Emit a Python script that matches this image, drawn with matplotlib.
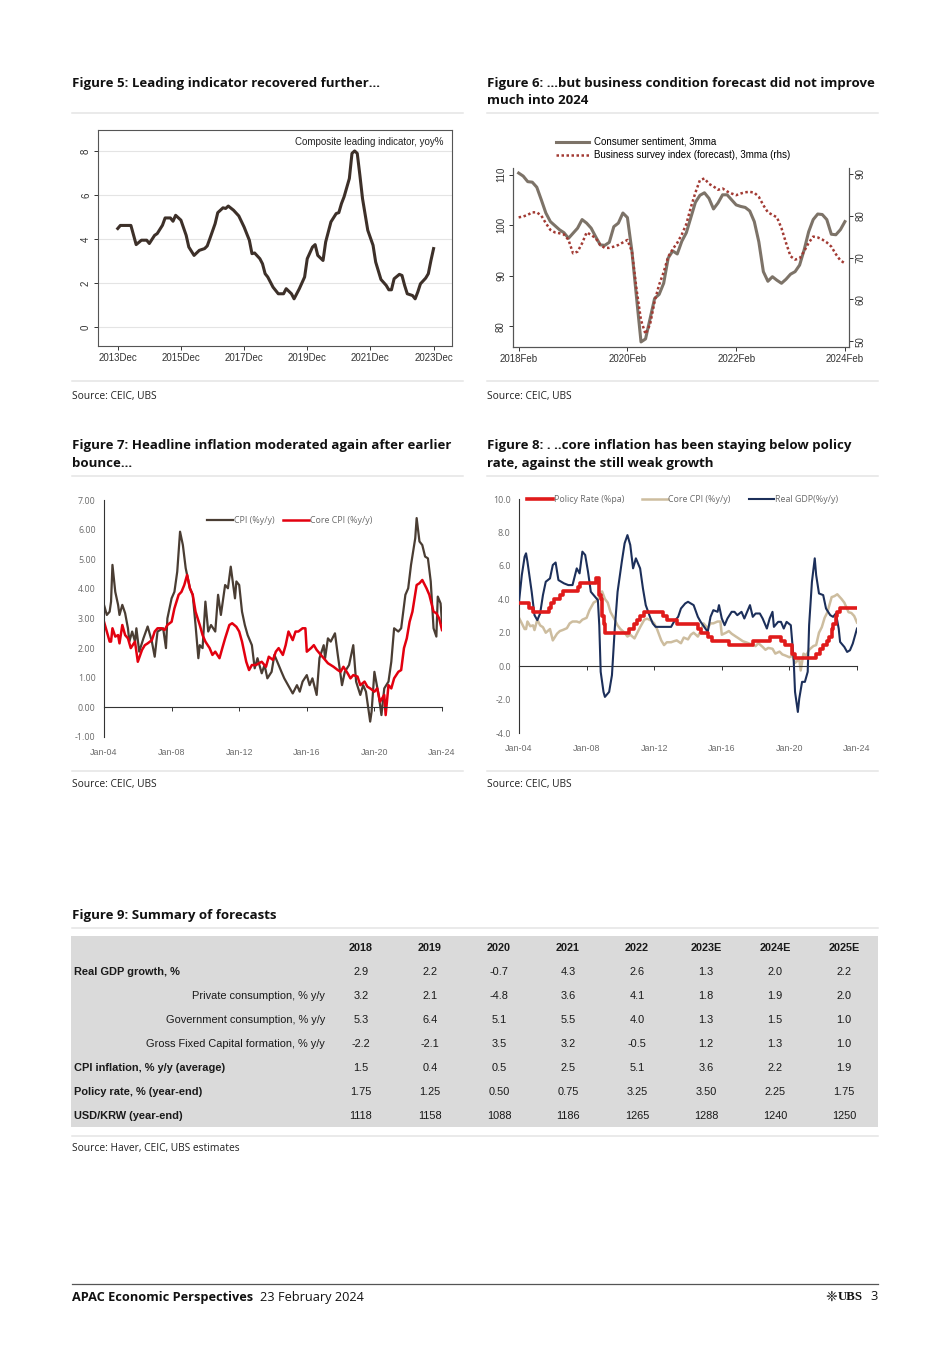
import matplotlib
matplotlib.use('Agg')
import matplotlib.pyplot as plt
from matplotlib.lines import Line2D
from matplotlib.patches import Rectangle

W, H = 950, 1345

# ---------------- Figure 5: composite leading indicator (months since 2013Dec)
cli_month = [0, 1, 5, 7, 9, 11, 12, 14, 15, 17, 18, 20, 21, 22, 24, 26, 27, 29, 31, 33,
             34, 35, 37, 38, 40, 41, 42, 44, 46, 48, 50, 51, 52, 54, 55, 56, 57, 59, 61, 63,
             64, 66, 67, 69, 71, 72, 74, 75, 76, 78, 79, 81, 83, 84, 85, 86, 88, 89, 90, 91,
             92, 93, 95, 97, 98, 100, 102, 103, 104, 105, 107, 108, 109, 110, 112, 113, 114, 115, 117, 118,
             119, 120]
cli_value = [4.48, 4.62, 4.62, 3.75, 3.95, 3.95, 3.8, 4.17, 4.25, 4.63, 4.96, 4.96, 4.81, 5.08, 4.86, 4.17, 3.64, 3.26, 3.49, 3.57,
             3.69, 4.02, 4.7, 5.2, 5.42, 5.39, 5.5, 5.31, 5.05, 4.55, 3.95, 3.34, 3.37, 3.11, 2.88, 2.43, 2.28, 1.82, 1.52, 1.52,
             1.75, 1.52, 1.29, 1.75, 2.28, 3.11, 3.64, 3.75, 3.26, 3.03, 3.87, 4.78, 5.16, 5.2, 5.61, 5.92, 6.75, 7.89, 8.0, 7.89,
             6.9, 5.84, 4.4, 3.72, 2.96, 2.17, 1.9, 1.7, 1.7, 2.2, 2.4, 2.35, 1.9, 1.52, 1.44, 1.29, 1.6, 1.97, 2.23, 2.43,
             3.03, 3.57]
cli_xlabels = ['2013Dec', '2015Dec', '2017Dec', '2019Dec', '2021Dec', '2023Dec']

# ---------------- Figure 6: sentiment (monthly from 2018Feb)
cs_value = [110.3, 109.7, 108.6, 108.5, 107.5, 105.0, 102.4, 100.7, 99.9, 99.1,
            98.5, 97.4, 98.4, 99.4, 101.1, 100.4, 99.4, 97.7, 96.1, 96.0,
            96.6, 99.7, 100.4, 102.4, 101.5, 94.8, 85.8, 76.9, 77.5, 81.5,
            85.5, 86.3, 88.5, 93.5, 94.9, 94.3, 96.8, 98.5, 101.5, 104.5,
            105.9, 106.4, 105.3, 103.2, 104.4, 106.0, 106.0, 105.0, 104.0, 103.7,
            103.5, 102.8, 100.7, 96.7, 90.8, 88.9, 89.8, 89.1, 88.5, 89.3,
            90.3, 90.8, 92.1, 95.1, 98.7, 101.1, 102.2, 102.1, 101.1, 98.2,
            98.1, 99.1, 100.7]
bs_value = [79.6, 79.8, 80.2, 80.8, 80.8, 80.0, 78.2, 76.6, 76.0, 75.8,
            75.5, 74.2, 71.0, 71.4, 73.4, 76.0, 75.4, 74.6, 73.0, 72.3,
            72.3, 72.6, 73.0, 73.6, 74.2, 71.4, 62.5, 55.0, 51.7, 54.0,
            59.5, 63.5, 66.5, 70.2, 72.0, 73.5, 75.5, 78.0, 82.0, 85.5,
            88.5, 88.9, 87.6, 87.0, 86.2, 86.5, 85.8, 85.3, 84.9, 85.3,
            85.6, 85.7, 85.5, 84.5, 82.5, 80.8, 80.2, 79.6, 77.0, 73.5,
            70.3, 69.5, 69.8, 71.5, 73.5, 75.0, 74.8, 74.3, 73.6, 72.6,
            70.8, 69.3, 68.6]
sent_xlabels = ['2018Feb', '2020Feb', '2022Feb', '2024Feb']

# ---------------- Figure 7 / 8 (months since Jan-04)
cpi_month = [0, 2, 4, 5, 6, 8, 10, 11, 13, 15, 17, 18, 20, 22, 23, 25, 28, 31, 34, 36,
             38, 42, 44, 45, 48, 50, 52, 54, 56, 58, 61, 63, 65, 67, 68, 70, 72, 74, 76, 79,
             81, 83, 86, 88, 90, 93, 94, 96, 98, 100, 102, 105, 107, 109, 112, 114, 116, 119, 121, 124,
             126, 128, 132, 134, 137, 139, 141, 144, 146, 148, 151, 153, 156, 157, 159, 161, 164, 166, 169, 171,
             174, 177, 179, 182, 184, 186, 189, 190, 192, 195, 197, 199, 202, 204, 206, 209, 211, 214, 216, 218,
             221, 222, 224, 226, 228, 230, 232, 234, 236, 237, 239, 240]
cpi_value = [3.46, 3.12, 3.23, 3.57, 4.81, 3.9, 3.46, 3.12, 3.46, 3.18, 2.67, 2.22, 2.56, 2.22, 2.67, 1.88, 2.33, 2.73, 2.22, 1.71,
             2.56, 2.67, 2.0, 3.0, 3.68, 3.9, 4.58, 5.93, 5.48, 4.7, 4.02, 3.8, 2.78, 1.66, 2.1, 2.0, 3.57, 2.56, 2.78, 2.56,
             3.8, 3.12, 4.13, 4.02, 4.75, 3.68, 4.25, 4.13, 3.23, 2.78, 2.44, 2.1, 1.32, 1.66, 1.15, 1.43, 0.98, 1.2, 1.77, 1.43,
             1.2, 0.98, 0.64, 0.47, 0.75, 0.53, 0.87, 1.09, 0.75, 0.98, 0.42, 1.66, 2.1, 1.66, 2.33, 2.22, 2.5, 1.77, 0.75, 1.2,
             1.43, 2.1, 0.87, 0.42, 0.75, 0.53, -0.48, -0.15, 1.2, 0.42, -0.26, 0.64, 0.87, 1.54, 2.67, 2.56, 2.67, 3.8, 4.02, 4.81,
             5.71, 6.39, 5.6, 5.48, 5.09, 5.03, 4.25, 2.67, 2.39, 3.74, 3.51, 2.84]
core_month = [0, 2, 4, 5, 6, 8, 10, 11, 13, 15, 17, 19, 22, 24, 27, 29, 31, 34, 36, 38,
              41, 43, 45, 48, 50, 53, 55, 57, 59, 61, 63, 65, 68, 70, 72, 75, 77, 79, 82, 84,
              86, 89, 91, 94, 96, 98, 101, 103, 105, 108, 110, 112, 115, 117, 120, 122, 124, 127, 129, 131,
              134, 136, 138, 141, 143, 144, 147, 149, 151, 154, 156, 159, 161, 163, 166, 168, 170, 173, 175, 177,
              180, 182, 185, 187, 189, 192, 194, 196, 199, 200, 202, 204, 206, 209, 211, 213, 215, 217, 219, 222,
              224, 226, 229, 231, 234, 236, 238, 240]
core_value = [2.89, 2.56, 2.22, 2.22, 2.67, 2.39, 2.44, 2.16, 2.78, 2.44, 2.33, 2.0, 2.22, 1.54, 1.94, 2.1, 2.16, 2.27, 2.56, 2.67,
              2.67, 2.61, 2.78, 2.89, 3.34, 3.8, 3.9, 4.13, 4.47, 4.02, 3.8, 3.23, 2.78, 2.44, 2.22, 2.0, 1.77, 1.88, 1.66, 2.0,
              2.33, 2.78, 2.84, 2.72, 2.56, 2.22, 1.54, 1.26, 1.43, 1.43, 1.49, 1.54, 1.37, 1.71, 1.6, 1.88, 2.0, 1.77, 2.1, 2.56,
              2.27, 2.56, 2.56, 2.67, 2.67, 1.88, 2.0, 2.1, 1.94, 1.77, 1.66, 1.49, 1.43, 1.37, 1.26, 1.2, 1.37, 1.15, 0.98, 1.09,
              1.04, 0.75, 0.87, 0.7, 0.64, 0.53, 0.64, 0.19, 0.42, -0.26, 0.75, 0.64, 0.98, 1.2, 1.26, 2.0, 2.33, 2.89, 3.23, 4.13,
              4.19, 4.3, 4.02, 3.8, 3.23, 3.18, 3.0, 2.61]
policy_month = [0, 7, 10, 21, 23, 25, 29, 31, 42, 43, 55, 57, 58, 59, 60, 61, 78, 82, 84, 86,
                89, 102, 105, 112, 127, 129, 134, 137, 149, 166, 178, 186, 189, 194, 196, 211, 214, 216, 219, 220,
                222, 223, 225, 226, 228, 240]
policy_rate = [3.75, 3.5, 3.25, 3.5, 3.75, 4.0, 4.25, 4.5, 4.75, 5.0, 5.25, 4.25, 4.0, 3.0, 2.5, 2.0, 2.25, 2.5, 2.75, 3.0,
               3.25, 3.0, 2.75, 2.5, 2.25, 2.0, 1.75, 1.5, 1.25, 1.5, 1.75, 1.5, 1.25, 0.75, 0.5, 0.75, 1.0, 1.25, 1.5, 1.75,
               2.25, 2.5, 3.0, 3.25, 3.5, 3.5]
gdp_month = [0, 2, 4, 5, 6, 9, 11, 13, 15, 17, 19, 22, 24, 26, 28, 30, 32, 35, 38, 41,
             43, 45, 47, 49, 51, 54, 56, 57, 58, 60, 61, 64, 66, 68, 70, 73, 75, 77, 79, 81,
             83, 86, 88, 90, 93, 95, 97, 103, 108, 110, 113, 115, 118, 120, 124, 127, 129, 134, 136, 138,
             141, 142, 144, 146, 148, 151, 153, 155, 158, 160, 163, 164, 166, 168, 171, 173, 176, 178, 180, 181,
             184, 186, 188, 190, 193, 195, 196, 198, 199, 201, 203, 205, 206, 208, 210, 211, 213, 216, 218, 221,
             223, 225, 227, 228, 231, 233, 235, 237, 240]
gdp_value = [3.85, 5.45, 6.55, 6.75, 6.25, 4.45, 3.05, 2.75, 3.15, 4.25, 5.05, 5.25, 6.05, 6.2, 5.15, 5.05, 4.95, 4.85, 4.85, 5.85,
             5.55, 6.85, 6.65, 5.65, 4.45, 4.15, 3.95, 2.45, -0.34, -1.54, -1.84, -1.54, -0.54, 2.25, 4.45, 6.25, 7.35, 7.84, 7.25, 5.85,
             6.45, 5.85, 4.65, 3.65, 2.95, 2.55, 2.35, 2.35, 2.35, 2.65, 2.95, 3.45, 3.75, 3.85, 3.65, 2.95, 2.65, 2.05, 2.95, 3.35,
             3.25, 3.65, 2.85, 2.45, 2.85, 3.25, 3.25, 3.05, 3.25, 2.85, 3.45, 3.65, 2.95, 3.15, 3.15, 2.85, 2.25, 2.85, 3.25, 2.35,
             2.65, 2.65, 2.25, 2.65, 2.45, 0.45, -1.54, -2.74, -1.94, -0.94, -0.94, -0.34, 2.45, 5.05, 6.45, 5.45, 4.35, 4.25, 3.45, 3.05,
             2.95, 3.15, 2.25, 1.45, 1.15, 0.85, 0.95, 1.35, 2.25]
jan_xlabels = ['Jan-04', 'Jan-08', 'Jan-12', 'Jan-16', 'Jan-20', 'Jan-24']

# ---------------- Figure 9: forecast table
tbl_years = ['2018', '2019', '2020', '2021', '2022', '2023E', '2024E', '2025E']
tbl_rows = ['Real GDP growth, %', 'Private consumption, % y/y', 'Government consumption, % y/y',
            'Gross Fixed Capital formation, % y/y', 'CPI inflation, % y/y (average)',
            'Policy rate, % (year-end)', 'USD/KRW (year-end)']
tbl_main = [True, False, False, False, True, True, True]
gdp_row = ['2.9', '2.2', '-0.7', '4.3', '2.6', '1.3', '2.0', '2.2']
pcons_row = ['3.2', '2.1', '-4.8', '3.6', '4.1', '1.8', '1.9', '2.0']
gcons_row = ['5.3', '6.4', '5.1', '5.5', '4.0', '1.3', '1.5', '1.0']
gfcf_row = ['-2.2', '-2.1', '3.5', '3.2', '-0.5', '1.2', '1.3', '1.0']
cpi_row = ['1.5', '0.4', '0.5', '2.5', '5.1', '3.6', '2.2', '1.9']
rate_row = ['1.75', '1.25', '0.50', '0.75', '3.25', '3.50', '2.25', '1.75']
krw_row = ['1118', '1158', '1088', '1186', '1265', '1288', '1240', '1250']
tbl_values = [gdp_row, pcons_row, gcons_row, gfcf_row, cpi_row, rate_row, krw_row]

plt.rcParams['font.family'] = ['Liberation Sans', 'DejaVu Sans']
fig = plt.figure(figsize=(9.5, 13.45), dpi=100)


def box(x0, y0, x1, y1):
    return [x0 / W, 1 - y1 / H, (x1 - x0) / W, (y1 - y0) / H]


def ftext(x, y, s, **kw):
    kw.setdefault('va', 'center')
    fig.text(x / W, 1 - y / H, s, **kw)


def rule(x0, x1, y, color='#e4e4e4', lw=1.1):
    fig.add_artist(Line2D([x0 / W, x1 / W], [1 - y / H, 1 - y / H], color=color, lw=lw))


LIGHT = ['Open Sans', 'DejaVu Sans']
TITLE = dict(family=LIGHT, weight='bold', fontsize=9.5, color='#111111')
SRC = dict(family=LIGHT, fontsize=7.4, color='#222222')

# titles / rules / sources
ftext(72, 83, 'Figure 5: Leading indicator recovered further...', **TITLE)
ftext(487, 83, 'Figure 6: ...but business condition forecast did not improve', **TITLE)
ftext(487, 100, 'much into 2024', **TITLE)
rule(72, 463, 113); rule(487, 878, 113)
rule(72, 463, 381); rule(487, 878, 381)
ftext(72, 396, 'Source: CEIC, UBS', **SRC)
ftext(487, 396, 'Source: CEIC, UBS', **SRC)

ftext(72, 446, 'Figure 7: Headline inflation moderated again after earlier', **TITLE)
ftext(72, 463, 'bounce...', **TITLE)
ftext(487, 446, 'Figure 8: . ..core inflation has been staying below policy', **TITLE)
ftext(487, 463, 'rate, against the still weak growth', **TITLE)
rule(72, 463, 476); rule(487, 878, 476)
rule(72, 463, 771); rule(487, 878, 771)
ftext(72, 784, 'Source: CEIC, UBS', **SRC)
ftext(487, 784, 'Source: CEIC, UBS', **SRC)

ftext(72, 915, 'Figure 9: Summary of forecasts', **TITLE)
rule(72, 878, 928)
rule(72, 878, 1136)
ftext(72, 1149, 'Source: Haver, CEIC, UBS estimates', **SRC)

# ---------------- Figure 5 chart
ax5 = fig.add_axes(box(98, 130, 452, 346))
ax5.plot(cli_month, cli_value, color='#3d3029', lw=2.2)
ax5.set_xlim(-7.5, 127)
ax5.set_ylim(-0.85, 8.95)
ax5.set_yticks([0, 2, 4, 6, 8])
ax5.set_xticks(range(0, 24 * len(cli_xlabels), 24))
ax5.set_xticklabels(cli_xlabels)
ax5.grid(axis='y', color='#e4e4e4', lw=0.8)
ax5.set_axisbelow(True)
ax5.tick_params(labelsize=7, colors='#333333', length=3, width=0.7, pad=2)
for lab in ax5.get_yticklabels():
    lab.set_rotation(90)
    lab.set_va('center')
for sp in ax5.spines.values():
    sp.set_color('#555555')
    sp.set_linewidth(0.8)
ax5.text(0.975, 0.945, 'Composite leading indicator, yoy%', transform=ax5.transAxes,
         ha='right', va='center', fontsize=7, color='#222222')

# ---------------- Figure 6 chart
ax6 = fig.add_axes(box(513, 168, 849, 347))
ax6r = ax6.twinx()
months6 = list(range(len(cs_value)))
l1, = ax6.plot(months6, cs_value, color='#7d7368', lw=2.2)
l2, = ax6r.plot(months6, bs_value, color='#a23a33', lw=1.8, ls=(0, (1, 1)))
ax6.set_xlim(-1.25, 72.9)
ax6.set_ylim(75.9, 111.3)
ax6r.set_ylim(48.6, 91.4)
ax6.set_yticks([80, 90, 100, 110])
ax6r.set_yticks([50, 60, 70, 80, 90])
ax6.set_xticks(range(0, 24 * len(sent_xlabels), 24))
ax6.set_xticklabels(sent_xlabels)
for a in (ax6, ax6r):
    a.spines['top'].set_visible(False)
    for sp in ('left', 'right', 'bottom'):
        a.spines[sp].set_color('#555555')
        a.spines[sp].set_linewidth(0.8)
    a.tick_params(labelsize=7, colors='#333333', length=3, width=0.7, pad=2)
for lab in ax6.get_yticklabels() + ax6r.get_yticklabels():
    lab.set_rotation(90)
    lab.set_va('center')
ax6.legend([l1, l2], ['Consumer sentiment, 3mma', 'Business survey index (forecast), 3mma (rhs)'],
           loc='upper left', bbox_to_anchor=(556 / W, 1 - 137 / H), bbox_transform=fig.transFigure,
           frameon=False, fontsize=7, handlelength=3.4, handletextpad=0.5, labelspacing=0.35,
           borderpad=0, borderaxespad=0)

# ---------------- Figure 7 / 8 common styling
GREY = '#6b6b6b'


def style_jan_axis(ax, ylim, yfmt, pad):
    ax.set_xlim(0, 240)
    ax.set_ylim(*ylim)
    ax.set_xticks(range(0, 48 * len(jan_xlabels), 48))
    ax.set_xticklabels(jan_xlabels, family=LIGHT)
    ax.spines['top'].set_visible(False)
    ax.spines['right'].set_visible(False)
    ax.spines['bottom'].set_position(('data', 0))
    for sp in ('left', 'bottom'):
        ax.spines[sp].set_color('#333333')
        ax.spines[sp].set_linewidth(0.8)
    ax.tick_params(axis='x', direction='out', length=3, width=0.7, pad=pad,
                   labelsize=6.4, labelcolor=GREY, color='#333333')
    ax.tick_params(axis='y', length=0, pad=6, labelsize=6.4, labelcolor=GREY)
    ax.yaxis.set_major_formatter(matplotlib.ticker.FormatStrFormatter(yfmt))
    for lab in ax.get_yticklabels():
        lab.set_family(LIGHT)


ax7 = fig.add_axes(box(104, 500, 442, 737))
ax7.plot(cpi_month, cpi_value, color='#4a3d33', lw=1.6, label='CPI (%y/y)')
ax7.plot(core_month, core_value, color='#e3000f', lw=1.8, label='Core CPI (%y/y)')
ax7.set_yticks(range(-1, 8))
style_jan_axis(ax7, (-1, 7), '%.2f', 26)
ax7.legend(loc='upper left', bbox_to_anchor=(207 / W, 1 - 516 / H), bbox_transform=fig.transFigure,
           ncol=2, frameon=False, handlelength=2.9, handletextpad=0.15, columnspacing=0.9,
           borderpad=0, borderaxespad=0, prop={'family': LIGHT, 'size': 6.4}, labelcolor=GREY)

ax8 = fig.add_axes(box(519, 499, 857, 733))
ax8.plot(core_month, core_value, color='#cdbd9f', lw=1.8, label='Core CPI (%y/y)', zorder=2)
ax8.plot(gdp_month, gdp_value, color='#1c2f5a', lw=1.5, label='Real GDP(%y/y)', zorder=3)
ax8.plot(policy_month, policy_rate, color='#e01b1b', lw=2.6, drawstyle='steps-post',
         label='Policy Rate (%pa)', zorder=4)
ax8.set_yticks(range(-4, 11, 2))
style_jan_axis(ax8, (-4, 10), '%.1f', 53)
h, lb = ax8.get_legend_handles_labels()
order = [2, 0, 1]
ax8.legend([h[i] for i in order], [lb[i] for i in order], loc='upper left',
           bbox_to_anchor=(527 / W, 1 - 495 / H), bbox_transform=fig.transFigure,
           ncol=3, frameon=False, handlelength=2.9, handletextpad=0.1, columnspacing=2.0,
           borderpad=0, borderaxespad=0, prop={'family': LIGHT, 'size': 6.4}, labelcolor=GREY)

# ---------------- Figure 9 table
fig.add_artist(Rectangle((71 / W, 1 - 1127 / H), (878 - 71) / W, (1127 - 936) / H,
                         transform=fig.transFigure, facecolor='#dadada', edgecolor='none', zorder=0))
col_x0, col_dx = 361, 69
row_y0, row_dy = 972, 24
for j, yr in enumerate(tbl_years):
    ftext(col_x0 + j * col_dx, 948, yr, ha='center', fontsize=7.8, weight='bold', color='#1a1a1a')
for i, (name, main, vals) in enumerate(zip(tbl_rows, tbl_main, tbl_values)):
    y = row_y0 + i * row_dy
    if main:
        ftext(74, y, name, ha='left', fontsize=7.9, weight='bold', color='#1a1a1a')
    else:
        ftext(325, y, name, ha='right', fontsize=7.9, color='#1a1a1a')
    for j, v in enumerate(vals):
        ftext(col_x0 + j * col_dx, y, v, ha='center', fontsize=7.9, color='#1a1a1a')

# ---------------- footer
rule(72, 878, 1284, color='#555555', lw=0.9)
ftext(72, 1297, 'APAC Economic Perspectives', family=LIGHT, weight='bold', fontsize=9.2, color='#111111')
ftext(260, 1297, '23 February 2024', family=LIGHT, fontsize=9.2, color='#111111')
ftext(837, 1297, '\u2748', ha='right', fontsize=10, color='#111111', family=['DejaVu Sans'])
ftext(838, 1297, 'UBS', ha='left', fontsize=9.3, weight='bold', color='#111111', family=['Liberation Serif'])
ftext(878, 1297, '3', ha='right', fontsize=9.3, color='#111111', family=LIGHT)

fig.savefig('out.png', dpi=100)
